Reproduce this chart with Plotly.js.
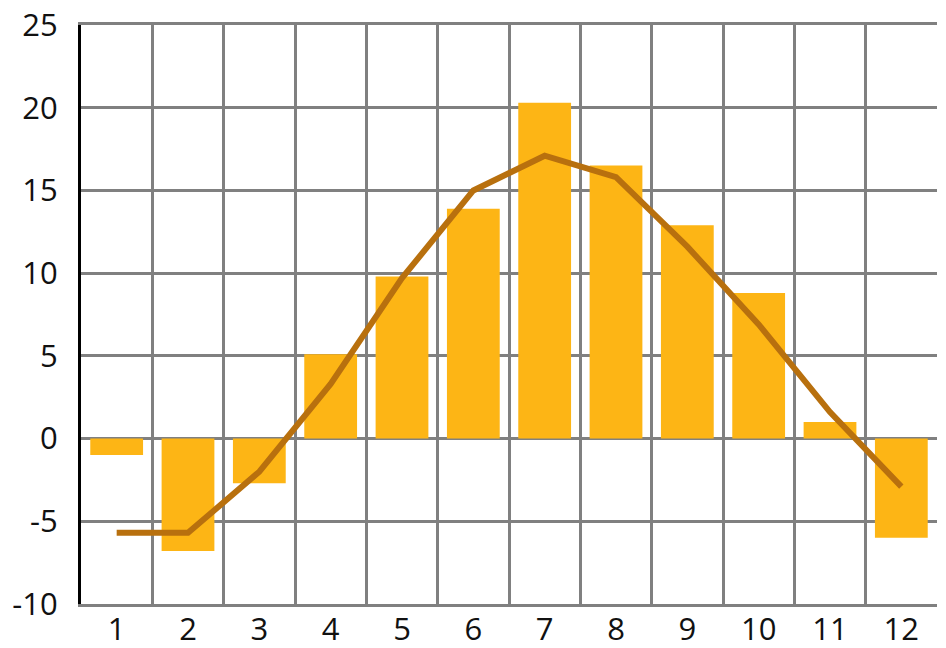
<!DOCTYPE html>
<html>
<head>
<meta charset="utf-8">
<script src="https://cdn.plot.ly/plotly-3.0.1.min.js"></script>
<style>html,body{margin:0;padding:0;background:#fff;}#chart{width:946px;height:648px;}</style>
</head>
<body>
<div id="chart"></div>
<script>
const months = ['1','2','3','4','5','6','7','8','9','10','11','12'];
const barValues = [-1.0, -6.8, -2.7, 5.1, 9.8, 13.9, 20.3, 16.5, 12.9, 8.8, 1.0, -6.0];
const lineValues = [-5.7, -5.7, -2.0, 3.3, 9.7, 15.0, 17.1, 15.8, 11.6, 6.9, 1.6, -2.9];
const yTicks = [-10, -5, 0, 5, 10, 15, 20, 25];

const font = {family: 'Open Sans, DejaVu Sans, sans-serif', size: 31, color: '#111'};

const traces = [
  {type: 'bar', x: months, y: barValues, marker: {color: '#FDB515'}, width: 0.74, hoverinfo: 'skip'},
  {type: 'scatter', mode: 'lines', x: months, y: lineValues,
   line: {color: '#B8700E', width: 6}, hoverinfo: 'skip'}
];

const layout = {
  width: 946, height: 648,
  margin: {l: 81, r: 9, t: 25, b: 44, pad: 0},
  paper_bgcolor: '#fff', plot_bgcolor: '#fff',
  showlegend: false,
  font: font,
  xaxis: {
    type: 'category', tickson: 'boundaries', range: [-0.5, 11.5],
    showgrid: true, gridcolor: '#808080', gridwidth: 3,
    showline: true, linecolor: '#808080', linewidth: 3, mirror: true,
    ticks: '', tickfont: font, ticklabelstandoff: -4
  },
  yaxis: {
    range: [-10, 25], tickvals: yTicks, ticktext: yTicks.map(String),
    showgrid: true, gridcolor: '#808080', gridwidth: 3,
    zeroline: false,
    showline: true, linecolor: '#000', linewidth: 3,
    ticks: '', tickfont: font, ticklabelstandoff: 14
  }
};

Plotly.newPlot('chart', traces, layout, {staticPlot: true, displayModeBar: false});
</script>
</body>
</html>
